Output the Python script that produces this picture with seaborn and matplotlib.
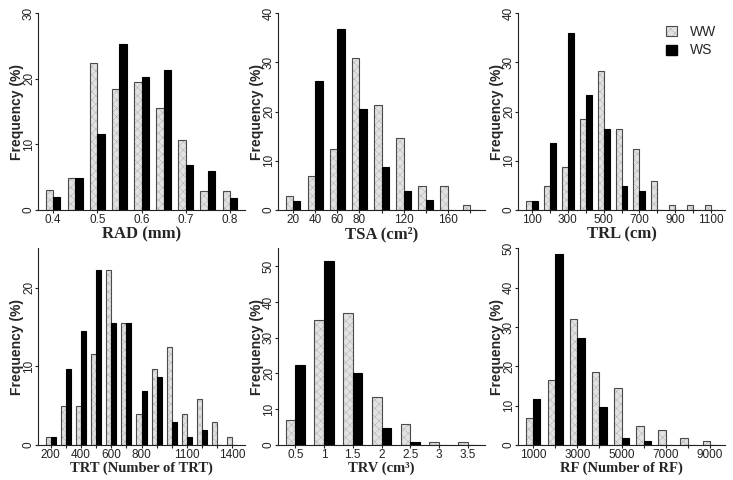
import matplotlib
matplotlib.use("Agg")
import matplotlib.pyplot as plt
import seaborn as sns
import pandas as pd
from matplotlib.patches import Patch
from matplotlib.colors import to_rgba

# ---------------- data ----------------
rad_bins = ["0.4", "0.45", "0.5", "0.55", "0.6", "0.65", "0.7", "0.75", "0.8"]
rad_ww = [3.0, 4.9, 22.4, 18.4, 19.5, 15.5, 10.7, 2.9, 2.9]
rad_ws = [2.0, 4.9, 11.6, 25.3, 20.3, 21.4, 6.8, 5.9, 1.9]
rad_ticks = ["0.4", "", "0.5", "", "0.6", "", "0.7", "", "0.8"]

tsa_bins = ["20", "40", "60", "80", "100", "120", "140", "160", "180"]
tsa_ww = [2.9, 7.0, 12.5, 31.0, 21.4, 14.6, 4.9, 4.9, 1.0]
tsa_ws = [1.9, 26.2, 36.9, 20.5, 8.8, 3.9, 2.0, 0.0, 0.0]
tsa_ticks = ["20", "40", "60", "80", "", "120", "", "160", ""]

trl_bins = ["100", "200", "300", "400", "500", "600", "700", "800", "900", "1000", "1100"]
trl_ww = [1.9, 4.9, 8.8, 18.5, 28.3, 16.5, 12.5, 5.9, 1.0, 1.0, 1.0]
trl_ws = [1.9, 13.6, 35.9, 23.4, 16.5, 4.9, 3.9, 0.0, 0.0, 0.0, 0.0]
trl_ticks = ["100", "", "300", "", "500", "", "700", "", "900", "", "1100"]

trt_bins = ["200", "300", "400", "500", "600", "700", "800", "900", "1000",
            "1100", "1200", "1300", "1400"]
trt_ww = [1.0, 4.9, 4.9, 11.6, 22.3, 15.5, 3.9, 9.7, 12.5, 3.9, 5.8, 2.9, 1.0]
trt_ws = [1.0, 9.7, 14.5, 22.3, 15.5, 15.5, 6.8, 8.7, 2.9, 1.0, 1.9, 0.0, 0.0]
trt_ticks = ["200", "", "400", "", "600", "", "800", "", "", "1100", "", "", "1400"]

trv_bins = ["0.5", "1", "1.5", "2", "2.5", "3", "3.5"]
trv_ww = [6.9, 34.9, 36.8, 13.5, 5.9, 0.9, 0.9]
trv_ws = [22.3, 51.5, 20.1, 4.8, 0.9, 0.0, 0.0]
trv_ticks = ["0.5", "1", "1.5", "2", "2.5", "3", "3.5"]

rf_bins = ["1000", "2000", "3000", "4000", "5000", "6000", "7000", "8000", "9000"]
rf_ww = [6.8, 16.5, 32.0, 18.5, 14.6, 4.9, 3.8, 1.9, 1.0]
rf_ws = [11.6, 48.6, 27.3, 9.7, 1.9, 1.0, 0.0, 0.0, 0.0]
rf_ticks = ["1000", "", "3000", "", "5000", "", "7000", "", "9000"]

groups = ["WW", "WS"]

panels = [
    dict(bins=rad_bins, ww=rad_ww, ws=rad_ws, ticks=rad_ticks, ymax=30,
         yt=[0, 10, 20, 30], xlabel="RAD (mm)", only_labeled=True),
    dict(bins=tsa_bins, ww=tsa_ww, ws=tsa_ws, ticks=tsa_ticks, ymax=40,
         yt=[0, 10, 20, 30, 40], xlabel="TSA (cm²)", only_labeled=False),
    dict(bins=trl_bins, ww=trl_ww, ws=trl_ws, ticks=trl_ticks, ymax=40,
         yt=[0, 10, 20, 30, 40], xlabel="TRL (cm)", only_labeled=False),
    dict(bins=trt_bins, ww=trt_ww, ws=trt_ws, ticks=trt_ticks, ymax=25,
         yt=[0, 10, 20], xlabel="TRT (Number of TRT)", only_labeled=False),
    dict(bins=trv_bins, ww=trv_ww, ws=trv_ws, ticks=trv_ticks, ymax=55,
         yt=[0, 10, 20, 30, 40, 50], xlabel="TRV (cm³)", only_labeled=False),
    dict(bins=rf_bins, ww=rf_ww, ws=rf_ws, ticks=rf_ticks, ymax=50,
         yt=[0, 10, 20, 30, 40, 50], xlabel="RF (Number of RF)", only_labeled=False),
]

# ---------------- style ----------------
sns.set_style("ticks")
plt.rcParams["font.family"] = ["Liberation Sans", "DejaVu Sans"]
plt.rcParams["hatch.linewidth"] = 0.3

WW_FACE = "#e2e2e2"
WW_EDGE = "#4a4a4a"
WW_HATCH = "#a8a8a8"
WS_FACE = "#000000"
HATCH = "xxxx"


def style_ww(patch):
    patch.set_facecolor(WW_FACE)
    patch.set_edgecolor(WW_EDGE)
    patch.set_hatch(HATCH)
    patch.set_linewidth(0.8)
    if hasattr(patch, "set_hatchcolor"):
        patch.set_hatchcolor(WW_HATCH)
    else:
        patch._hatch_color = to_rgba(WW_HATCH)


W, H = 733, 480
fig = plt.figure(figsize=(W / 100, H / 100), dpi=100)

col_left = [38, 278, 518]
ax_w = 207
row_top = [13.3, 248.3]
ax_h = 196.7
xlabel_size = [12, 10.5]

for k, p in enumerate(panels):
    r, c = divmod(k, 3)
    l = col_left[c]
    t = row_top[r]
    ax = fig.add_axes([l / W, 1 - (t + ax_h) / H, ax_w / W, ax_h / H])
    n = len(p["bins"])
    df = pd.DataFrame({
        "bin": p["bins"] * 2,
        "freq": p["ww"] + p["ws"],
        "group": ["WW"] * n + ["WS"] * n,
    })
    sns.barplot(data=df, x="bin", y="freq", hue="group", order=p["bins"],
                hue_order=groups, palette={"WW": WW_FACE, "WS": WS_FACE},
                width=2 / 3, gap=0, dodge=True, errorbar=None, legend=False,
                saturation=1, linewidth=0.8, ax=ax)
    for bar in ax.containers[0]:
        style_ww(bar)
    for bar in ax.containers[1]:
        bar.set_facecolor(WS_FACE)
        bar.set_edgecolor("black")
        bar.set_linewidth(0.8)

    pad = (1 + 0.04 * (3 * n - 1)) / 3
    ax.set_xlim(-pad, n - 1 + pad)
    ax.set_ylim(0, p["ymax"])
    ax.set_yticks(p["yt"])
    ax.set_yticklabels([str(v) for v in p["yt"]], rotation=90, va="center",
                       fontsize=8.5, color="#222222")
    if p["only_labeled"]:
        pos = [i for i, s in enumerate(p["ticks"]) if s]
        labs = [s for s in p["ticks"] if s]
    else:
        pos = list(range(n))
        labs = p["ticks"]
    ax.set_xticks(pos)
    ax.set_xticklabels(labs, fontsize=8.5, color="#222222")
    ax.tick_params(axis="both", length=2.2, width=0.8, colors="#222222")
    ax.tick_params(axis="y", pad=0)
    ax.tick_params(axis="x", pad=1)
    for sp in ["top", "right"]:
        ax.spines[sp].set_visible(False)
    for sp in ["left", "bottom"]:
        ax.spines[sp].set_linewidth(0.8)
        ax.spines[sp].set_color("#222222")
    ax.set_ylabel("Frequency (%)", fontsize=10, fontweight="bold",
                  family=["Liberation Sans", "DejaVu Sans"])
    ax.yaxis.set_label_coords(-0.068, 0.5)
    ax.set_xlabel(p["xlabel"], fontsize=xlabel_size[r], fontweight="bold",
                  family=["Liberation Serif", "DejaVu Serif"], labelpad=0)

    if k == 2:
        ww_handle = Patch(label="WW")
        style_ww(ww_handle)
        handles = [ww_handle,
                   Patch(facecolor=WS_FACE, edgecolor="black", label="WS")]
        ax.legend(handles=handles, loc="upper right", bbox_to_anchor=(1.0, 0.985),
                  frameon=False, fontsize=10, handlelength=0.75,
                  handleheight=0.75, handletextpad=1.0, labelspacing=0.35,
                  borderaxespad=0.2)

fig.savefig("out.png", dpi=100)
